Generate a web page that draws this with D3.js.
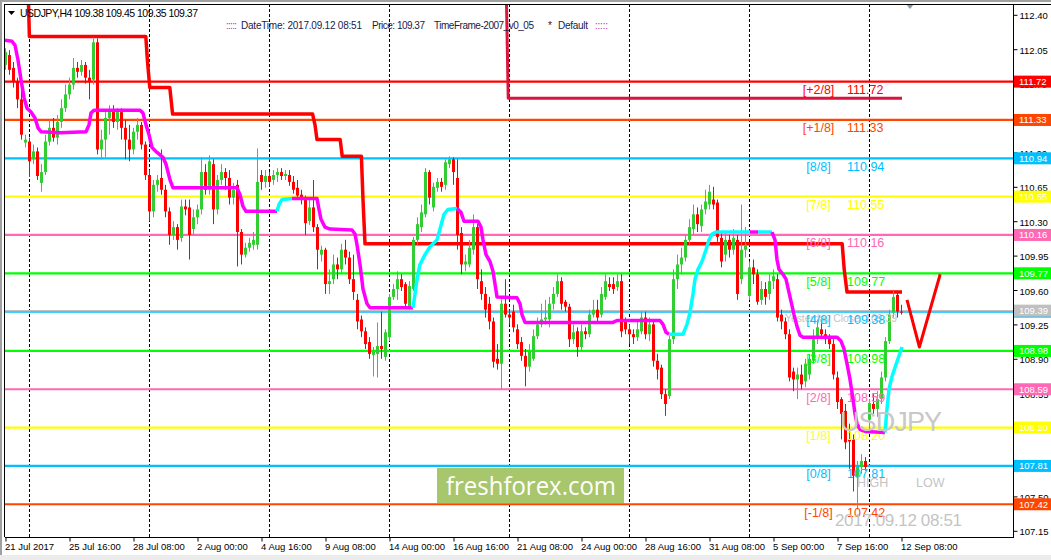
<!DOCTYPE html>
<html><head><meta charset="utf-8">
<script src="https://cdn.jsdelivr.net/npm/d3@7"></script>
<style>html,body{margin:0;padding:0;background:#fff;overflow:hidden}svg{display:block}</style>
</head><body>
<svg id="c" width="1051" height="560"></svg>
<script>
// ---------- DATA ----------
const opens=[111.89,111.99,111.86,111.72,111.54,111.10,111.11,110.93,111.01,110.69,110.80,111.11,111.25,111.15,111.31,111.45,111.59,111.69,111.86,111.82,
111.89,111.76,111.74,112.12,111.03,111.13,111.35,111.43,111.31,111.41,111.25,111.13,111.03,111.21,111.28,111.08,110.77,110.40,110.67,110.74,
110.62,110.40,110.16,110.24,110.13,110.45,110.44,110.22,110.34,110.42,110.80,110.62,110.88,110.42,110.72,110.80,110.74,110.54,110.67,110.19,
109.96,110.03,110.06,110.06,110.77,110.70,110.76,110.72,110.77,110.80,110.76,110.77,110.70,110.64,110.57,110.52,110.30,110.44,110.24,109.96,
110.01,109.66,109.71,109.86,109.81,110.01,109.93,109.71,109.50,109.30,109.18,109.07,108.94,108.95,109.03,108.92,109.12,109.53,109.61,109.71,
109.66,109.43,109.61,110.11,110.24,110.37,110.80,110.44,110.64,110.70,110.67,110.88,110.93,110.74,110.18,109.86,109.86,110.01,110.24,109.69,
109.56,109.46,109.28,108.90,108.85,109.46,109.35,109.38,109.20,109.07,108.93,108.82,108.90,109.13,109.25,109.30,109.30,109.46,109.56,109.69,
109.48,109.43,109.10,109.18,109.02,109.18,109.15,109.35,109.40,109.35,109.53,109.66,109.66,109.63,109.69,109.28,109.20,109.15,109.12,109.18,
109.32,109.15,109.25,108.88,108.81,108.54,108.52,109.10,109.71,109.86,109.93,110.11,110.22,110.37,110.25,110.42,110.47,110.52,110.49,110.13,
109.96,110.11,110.01,110.11,109.71,110.01,109.54,109.83,109.76,109.50,109.61,109.56,109.69,109.71,109.35,109.28,109.15,108.77,108.69,108.74,
108.67,108.74,108.88,109.12,109.20,109.15,109.12,109.05,108.71,108.49,108.37,108.08,108.08,107.70,107.80,107.86,108.28,108.44,108.39,108.49,
108.71,109.08,109.37,109.55,109.38];
const highs=[112.06,112.04,111.92,111.76,111.69,111.18,111.15,111.08,111.05,110.88,111.18,111.33,111.35,111.38,111.54,111.69,111.76,111.96,111.92,111.94,
111.92,111.84,112.17,112.16,111.23,111.41,111.48,111.48,111.45,111.45,111.33,111.28,111.25,111.35,111.31,111.11,110.82,110.72,110.77,111.03,
110.67,110.44,110.30,110.27,110.52,110.52,110.52,110.42,110.47,110.95,110.88,110.97,110.93,110.77,110.88,110.84,110.82,110.69,110.72,110.22,
110.08,110.13,110.19,111.04,110.82,110.82,110.80,110.82,110.84,110.84,110.82,110.82,110.76,110.72,110.62,110.56,110.52,110.72,110.27,110.05,
110.03,109.81,109.96,109.93,110.07,110.11,109.99,109.96,109.56,109.34,109.22,109.12,109.02,109.27,109.38,109.20,109.56,109.66,109.79,109.76,
109.68,109.69,110.14,110.34,110.47,110.84,110.82,110.69,110.74,110.74,110.93,110.96,110.95,110.93,110.24,109.96,110.11,110.37,110.27,109.81,
109.63,109.53,109.32,109.05,109.53,109.71,109.40,109.45,109.25,109.12,109.00,109.05,109.20,109.32,109.46,109.50,109.53,109.63,109.76,109.73,
109.50,109.46,109.25,109.22,109.25,109.22,109.40,109.50,109.50,109.63,109.76,109.73,109.73,109.76,109.76,109.32,109.25,109.20,109.28,109.38,
109.38,109.32,109.30,108.95,108.84,108.59,109.15,109.81,109.96,110.03,110.16,110.32,110.47,110.44,110.47,110.62,110.67,110.65,110.52,110.19,
110.19,110.16,110.22,110.16,110.47,110.24,109.89,109.91,109.81,109.69,109.68,109.76,109.81,109.76,109.40,109.32,109.20,108.81,108.81,108.84,
108.90,108.95,109.20,109.30,109.30,109.20,109.15,109.10,108.77,108.51,108.44,108.24,108.13,107.86,107.93,107.90,108.49,108.54,108.57,108.77,
109.12,109.40,109.59,109.58,109.45];
const lows=[111.84,111.79,111.66,111.45,111.13,111.05,110.75,110.88,110.72,110.60,110.77,111.07,111.11,111.08,111.25,111.41,111.54,111.64,111.76,111.78,
111.70,111.54,111.69,110.98,110.93,110.95,111.18,111.25,111.23,111.13,110.93,110.91,110.98,111.13,111.03,110.72,110.30,110.34,110.60,110.57,
110.34,110.06,110.11,110.01,110.09,110.36,109.91,110.16,110.27,110.37,110.57,110.57,110.27,110.37,110.67,110.62,110.47,110.47,109.84,109.86,
109.93,109.99,110.01,110.01,110.62,110.64,110.65,110.67,110.70,110.72,110.72,110.66,110.58,110.52,110.47,110.16,110.26,110.19,109.81,109.89,
109.56,109.56,109.66,109.71,109.76,109.86,109.66,109.50,109.20,109.12,109.00,108.90,108.72,108.71,108.90,108.88,109.08,109.50,109.50,109.59,
109.42,109.40,109.59,110.06,110.19,110.34,110.47,110.40,110.60,110.60,110.62,110.84,110.67,110.01,109.76,109.79,109.83,109.96,109.61,109.50,
109.32,109.20,108.81,108.79,108.59,109.32,109.25,109.17,109.00,108.88,108.62,108.77,108.88,109.10,109.22,109.25,109.22,109.40,109.53,109.40,
109.38,109.02,109.05,108.92,108.98,109.10,109.12,109.32,109.28,109.32,109.50,109.59,109.56,109.59,109.12,109.15,109.05,109.05,109.08,109.15,
109.10,109.08,108.82,108.69,108.49,108.32,108.49,109.05,109.61,109.76,109.89,110.06,110.16,110.19,110.19,110.37,110.42,110.42,110.09,109.83,
109.89,109.93,109.96,109.50,109.66,109.93,109.50,109.66,109.45,109.45,109.45,109.50,109.61,109.28,109.20,109.10,108.67,108.57,108.49,108.59,
108.61,108.69,108.85,109.05,109.10,109.05,109.00,108.69,108.39,108.08,107.98,107.78,107.55,107.37,107.73,107.76,108.17,108.34,108.31,108.44,
108.67,109.05,109.32,109.32,109.35];
const closes=[112.02,111.84,111.72,111.54,111.18,111.13,110.91,111.01,110.76,110.80,111.11,111.25,111.15,111.31,111.45,111.59,111.69,111.86,111.82,111.89,
111.76,111.72,112.12,111.03,111.13,111.35,111.43,111.31,111.41,111.25,111.13,111.03,111.21,111.28,111.08,110.77,110.40,110.67,110.72,110.62,
110.40,110.16,110.24,110.11,110.45,110.42,110.16,110.34,110.42,110.80,110.62,110.91,110.42,110.72,110.80,110.74,110.54,110.62,110.19,109.96,
110.03,110.08,110.11,110.70,110.70,110.76,110.70,110.77,110.80,110.76,110.78,110.70,110.62,110.56,110.52,110.28,110.44,110.24,110.01,110.01,
109.66,109.69,109.86,109.81,110.01,109.93,109.71,109.58,109.28,109.18,109.05,108.95,108.97,109.03,109.00,109.17,109.53,109.61,109.71,109.63,
109.46,109.64,110.11,110.27,110.39,110.80,110.54,110.65,110.70,110.65,110.90,110.93,110.80,110.16,109.86,109.89,110.03,110.24,109.71,109.56,
109.40,109.28,108.87,108.85,109.46,109.35,109.32,109.22,109.05,108.93,108.82,108.97,109.13,109.25,109.30,109.32,109.46,109.56,109.69,109.46,
109.43,109.10,109.17,109.02,109.18,109.15,109.35,109.40,109.32,109.56,109.69,109.63,109.61,109.69,109.18,109.20,109.15,109.12,109.20,109.32,
109.15,109.25,108.88,108.79,108.54,108.44,109.10,109.71,109.86,109.93,110.11,110.24,110.37,110.27,110.42,110.50,110.60,110.47,110.14,109.89,
110.11,110.01,110.13,109.56,110.01,110.06,109.83,109.76,109.48,109.61,109.53,109.69,109.74,109.32,109.28,109.15,108.71,108.69,108.74,108.64,
108.85,108.90,109.12,109.22,109.15,109.10,109.05,108.74,108.46,108.34,108.05,108.06,107.71,107.80,107.86,107.80,108.45,108.39,108.49,108.71,
109.08,109.35,109.53,109.38,109.37];

const xTickIdx=[0,16,32,48,64,80,96,112,128,144,160,176,192,208,224];
const xTickLabels=["21 Jul 2017","25 Jul 16:00","28 Jul 08:00","2 Aug 00:00","4 Aug 16:00","9 Aug 08:00","14 Aug 00:00","16 Aug 16:00","21 Aug 08:00","24 Aug 00:00","28 Aug 16:00","31 Aug 08:00","5 Sep 00:00","7 Sep 16:00","12 Sep 08:00"];
const weekStartIdx=[6,36,66,96,126,156,186,216];
const yTicks=[112.40,112.05,111.70,111.35,111.00,110.65,110.30,109.95,109.60,109.25,108.90,108.55,108.20,107.85,107.50,107.15];
const yTicksUnderTags=[111.35,108.20,107.85];

const murreyLabels=["[+2/8]","[+1/8]","[8/8]","[7/8]","[6/8]","[5/8]","[4/8]","[3/8]","[2/8]","[1/8]","[0/8]","[-1/8]"];
const murreyValues=[111.72,111.33,110.94,110.55,110.16,109.77,109.38,108.98,108.59,108.20,107.81,107.42];
const murreyColors=["#FF0000","#FF4500","#00BFFF","#FFFF00","#FF69B4","#00FF00","#00BFFF","#00FF00","#FF69B4","#FFFF00","#00BFFF","#FF4500"];
const yesterdayClose=109.39;

const redStepIdx=[5.75,6.1,35.2,35.6,36.2,41.2,41.9,76.9,77.5,78,83.8,84.3,89.1,89.5,90,209.3,209.8,210.5,224.25];
const redStepVal=[112.70,112.18,112.18,111.94,111.66,111.66,111.39,111.39,111.28,111.13,111.13,110.96,110.96,110.52,110.07,110.07,109.81,109.58,109.58];
const crimsonIdx=[125.3,125.8,224.25];
const crimsonVal=[112.70,111.55,111.55];

const trendIdx=[0,1.75,2.5,3.25,4,4.75,5.5,6.5,7.5,8.25,9,13.75,20.25,21,21.5,22.25,33.75,34.5,35.25,36,36.75,38,39.5,40.25,41.25,42,58,58.75,59.5,60.25,68,
68.5,69.25,71.75,
78,78.5,79,80,81.25,86.75,87.5,88,88.75,89.5,90.5,91.25,102,
102.5,103,103.75,105,106.25,108,108.75,109.75,110.75,113,
114,114.75,118.25,119,119.5,120.25,121.25,122,122.5,123,128,128.75,129.25,130,152,153,163.75,164.5,165.25,166,
169.5,170.5,171.25,172,172.5,173.25,174.25,175.25,176,176.75,177.75,186.25,
188.25,
191.75,
192.5,193,193.5,194.5,195.25,196.25,197.25,198,198.75,199.5,208,209,209.75,210.5,211.25,212,212.5,213,213.75,215.25,220,
220.5,221,221.75,222.5,223.25,224.25];
const trendVal=[112.14,112.13,112.09,111.94,111.74,111.56,111.45,111.41,111.35,111.25,111.21,111.20,111.21,111.28,111.40,111.43,111.43,111.40,111.28,111.18,111.05,111.00,110.95,110.88,110.72,110.64,110.64,110.57,110.45,110.40,110.40,
110.47,110.52,110.53,
110.53,110.42,110.32,110.24,110.22,110.21,110.17,110.06,109.86,109.61,109.46,109.42,109.42,
109.56,109.71,109.86,109.96,110.04,110.11,110.22,110.37,110.42,110.43,
110.39,110.30,110.30,110.24,110.11,109.96,109.89,109.79,109.66,109.53,109.52,109.46,109.35,109.27,109.27,109.29,109.29,109.25,109.17,109.15,
109.15,109.25,109.37,109.56,109.71,109.81,109.89,110.01,110.11,110.17,110.19,110.19,
110.19,
110.19,
110.11,109.91,109.81,109.76,109.71,109.53,109.35,109.23,109.14,109.12,109.12,109.08,109.00,108.85,108.69,108.49,108.34,108.24,108.18,108.16,108.15,
108.39,108.59,108.72,108.81,108.90,109.02];
const trendRunColor=["m","c","m","c","m","c","m","c","m","c"];
const trendRunLen=[31,3,13,10,20,12,1,1,21,6];

const arrowIdx=[225.5,228.6,233.8];
const arrowVal=[109.50,109.02,109.76];

// ---------- CHART ----------
const svg=d3.select("#c");
const L=5,R=1013,T=4,B=537;
const x=d3.scaleLinear().domain([0,252]).range([5,1013]);
const y=d3.scaleLinear().domain([107.15,112.40]).range([530.8,14.8]);
const FONT="'Liberation Sans', Arial, sans-serif";

svg.append("rect").attr("width",1051).attr("height",560).attr("fill","#fff");
svg.append("rect").attr("x",0).attr("y",0).attr("width",1051).attr("height",2).attr("fill","#a0a0a0");
svg.append("rect").attr("x",0).attr("y",0).attr("width",2).attr("height",560).attr("fill","#a0a0a0");
svg.append("rect").attr("x",0).attr("y",555).attr("width",1051).attr("height",5).attr("fill","#ececec");

svg.append("defs").append("clipPath").attr("id","pc").append("rect")
  .attr("x",L).attr("y",T).attr("width",R-L).attr("height",B-T);
const g=svg.append("g").attr("clip-path","url(#pc)");

// week separators
g.selectAll("line.sep").data(weekStartIdx).join("line")
  .attr("x1",d=>Math.round(x(d))+0.5).attr("x2",d=>Math.round(x(d))+0.5)
  .attr("y1",T).attr("y2",B).attr("stroke","#000").attr("stroke-width",1).attr("stroke-dasharray","3,2");

// murrey lines
g.selectAll("line.mm").data(murreyValues).join("line")
  .attr("x1",L).attr("x2",R).attr("y1",d=>y(d)).attr("y2",d=>y(d))
  .attr("stroke",(d,i)=>murreyColors[i]).attr("stroke-width",2.2);
g.append("line").attr("x1",L).attr("x2",R).attr("y1",y(yesterdayClose)).attr("y2",y(yesterdayClose))
  .attr("stroke","#c0c0c0").attr("stroke-width",1.5);

// step lines
const ln=d3.line().x(d=>x(d[0])).y(d=>y(d[1]));
g.append("path").attr("d",ln(redStepIdx.map((d,i)=>[d,redStepVal[i]])))
  .attr("fill","none").attr("stroke","#FF0000").attr("stroke-width",3.5).attr("stroke-linejoin","round");
g.append("path").attr("d",ln(crimsonIdx.map((d,i)=>[d,crimsonVal[i]])))
  .attr("fill","none").attr("stroke","#DC143C").attr("stroke-width",3).attr("stroke-linejoin","round");

// candles
const candles=opens.map((o,i)=>({i,o,h:highs[i],l:lows[i],c:closes[i]}));
const cg=g.append("g");
candles.forEach(d=>{
  const col=d.c<d.o?"#FF0000":"#32CD32";
  const cx=Math.round(x(d.i));
  cg.append("line").attr("x1",cx+0.5).attr("x2",cx+0.5).attr("y1",y(d.h)).attr("y2",y(d.l))
    .attr("stroke",col).attr("stroke-width",1);
  const top=y(Math.max(d.o,d.c)), bot=y(Math.min(d.o,d.c));
  cg.append("rect").attr("x",cx-1).attr("width",3).attr("y",top).attr("height",Math.max(1,bot-top)).attr("fill",col);
});

// yesterday close text (under the level labels)
g.append("text").attr("x",785).attr("y",322).attr("font-family",FONT).attr("font-size",10.5)
  .attr("fill","#c4c4c4").attr("textLength",112).text("Yesterday Close: "+yesterdayClose.toFixed(2));

// murrey labels
murreyValues.forEach((v,i)=>{
  g.append("text").attr("x",818.5).attr("y",y(v)+12.5).attr("text-anchor","middle")
    .attr("font-family",FONT).attr("font-size",12.5).attr("fill",murreyColors[i]).text(murreyLabels[i]);
  g.append("text").attr("x",847).attr("y",y(v)+12.5)
    .attr("font-family",FONT).attr("font-size",12.5).attr("fill",murreyColors[i]).text(v.toFixed(2));
});

// trend line (magenta / cyan)
const tcol={m:"#FF00FF",c:"#00FFFF"};
let start=0;
trendRunLen.forEach((len,r)=>{
  const s=Math.max(0,start-1), e=start+len-1;
  const pts=[];
  for(let k=s;k<=e;k++) pts.push([trendIdx[k],trendVal[k]]);
  g.append("path").attr("d",ln(pts)).attr("fill","none").attr("stroke",tcol[trendRunColor[r]])
    .attr("stroke-width",3.5).attr("stroke-linejoin","round").attr("stroke-linecap","butt");
  start+=len;
});

// grey text objects on top
g.append("text").attr("x",840).attr("y",431).attr("font-family",FONT).attr("font-size",27)
  .attr("fill","#c8c8c8").attr("textLength",102).text("USDJPY");
g.append("text").attr("x",857).attr("y",487).attr("font-family",FONT).attr("font-size",12.5).attr("fill","#c4c4c4").text("HIGH");
g.append("text").attr("x",916).attr("y",487).attr("font-family",FONT).attr("font-size",12.5).attr("fill","#c4c4c4").text("LOW");
g.append("text").attr("x",835).attr("y",526).attr("font-family",FONT).attr("font-size",17)
  .attr("fill","#c4c4c4").attr("textLength",127).text("2017.09.12 08:51");

// red hand-drawn V
g.append("path").attr("d",ln(arrowIdx.map((d,i)=>[d,arrowVal[i]])))
  .attr("fill","none").attr("stroke","#FF0000").attr("stroke-width",3).attr("stroke-linejoin","round");

// watermark box
svg.append("rect").attr("x",437).attr("y",468).attr("width",187).attr("height",35).attr("fill","#A8C66C");
svg.append("text").attr("x",446).attr("y",494.5).attr("font-family","'Open Sans', sans-serif").attr("font-size",26)
  .attr("fill","#fff").attr("textLength",170).attr("lengthAdjust","spacingAndGlyphs").text("freshforex.com");

// shift marker
svg.append("path").attr("d","M906,4 L914,4 L910,9 Z").attr("fill","#8a9aa8");

// frame
svg.append("line").attr("x1",L).attr("x2",1051).attr("y1",T+0.5).attr("y2",T+0.5).attr("stroke","#000");
svg.append("line").attr("x1",L-0.5).attr("x2",L-0.5).attr("y1",T).attr("y2",B).attr("stroke","#000");
svg.append("line").attr("x1",L).attr("x2",R).attr("y1",B+0.5).attr("y2",B+0.5).attr("stroke","#000");
svg.append("line").attr("x1",R+0.5).attr("x2",R+0.5).attr("y1",T).attr("y2",B+1).attr("stroke","#000");

// right axis
const ya=svg.append("g").attr("transform",`translate(${R+0.5},0)`)
  .call(d3.axisRight(y).tickValues(yTicks).tickSize(4)
    .tickFormat(d=>yTicksUnderTags.includes(d)?"":d3.format(".2f")(d)));
ya.select(".domain").remove();
ya.selectAll("text").attr("font-family",FONT).attr("font-size",9.5).attr("fill","#000").attr("dy","0.42em").attr("x",6);
ya.selectAll("line").attr("stroke","#000");

// bottom axis
const xa=svg.append("g").attr("transform",`translate(0.5,${B+0.5})`)
  .call(d3.axisBottom(x).tickValues(xTickIdx).tickSize(4).tickFormat((d,i)=>xTickLabels[i]));
xa.select(".domain").remove();
xa.selectAll("text").attr("font-family",FONT).attr("font-size",9.5).attr("fill","#000")
  .attr("text-anchor","start").attr("x",-1).attr("y",6);
xa.selectAll("line").attr("stroke","#000");

// price tags on the right
const tags=murreyValues.map((v,i)=>({v,c:murreyColors[i]}));
tags.push({v:yesterdayClose,c:"#C0C0C0"});
tags.forEach(t=>{
  const ty=y(t.v);
  svg.append("rect").attr("x",R+1).attr("y",ty-6).attr("width",1051-R-1).attr("height",12).attr("fill",t.c);
  svg.append("text").attr("x",R+6).attr("y",ty).attr("dy","0.36em").attr("font-family",FONT)
    .attr("font-size",9.5).attr("fill","#fff").text(t.v.toFixed(2));
});

// header
svg.append("path").attr("d","M8,11 L15,11 L11.5,15 Z").attr("fill","#000");
svg.append("text").attr("x",20).attr("y",17).attr("font-family",FONT).attr("font-size",10.5).attr("fill","#000")
  .attr("textLength",178).text("USDJPY,H4  109.38 109.45 109.35 109.37");
const hdr=[[226,":::::","#b030b0",11],[241,"DateTime: 2017.09.12 08:51","#1a1a4a",121],[372,"Price: 109.37","#1a1a4a",53],
  [434,"TimeFrame-2007_v0_05","#1a1a4a",100],[548,"*","#1a1a4a",0],[558,"Default","#1a1a4a",30],[595,":::::","#b030b0",13]];
hdr.forEach(h=>{
  const t=svg.append("text").attr("x",h[0]).attr("y",28.5).attr("font-family",FONT).attr("font-size",10).attr("fill",h[2]).text(h[1]);
  if(h[3]) t.attr("textLength",h[3]);
});
</script>
</body></html>
